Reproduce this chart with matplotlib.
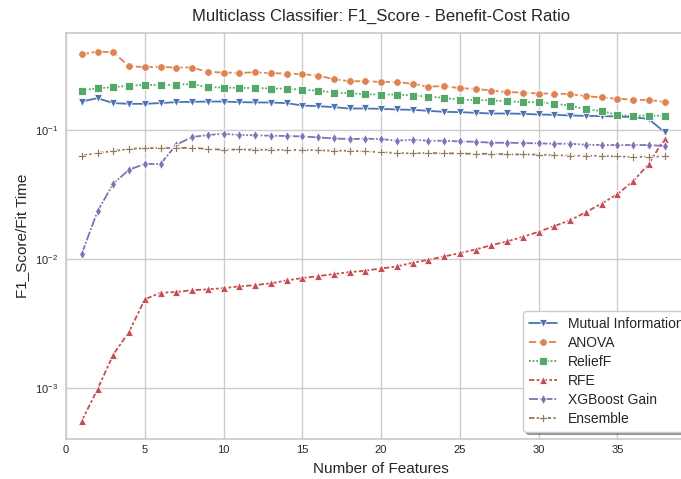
import matplotlib
matplotlib.use("Agg")
import matplotlib.pyplot as plt
import seaborn as sns
import numpy as np

sns.set_theme(style="whitegrid")
plt.rcParams['font.family'] = ['Liberation Sans', 'DejaVu Sans']

n_features = list(range(1, 39))

mutual_information = [0.1656, 0.1758, 0.161, 0.159, 0.159, 0.161, 0.1638, 0.1647, 0.1656, 0.1656,
                      0.1638, 0.163, 0.1627, 0.161, 0.1542, 0.1525, 0.1498, 0.1462, 0.1462, 0.1454,
                      0.1436, 0.1428, 0.1403, 0.1378, 0.137, 0.1354, 0.1337, 0.1337, 0.133, 0.1314,
                      0.1306, 0.129, 0.1283, 0.1276, 0.1268, 0.1254, 0.121, 0.096]
anova = [0.385, 0.404, 0.399, 0.311, 0.306, 0.307, 0.304, 0.304, 0.281, 0.278,
         0.276, 0.279, 0.275, 0.273, 0.270, 0.263, 0.247, 0.238, 0.238, 0.235,
         0.235, 0.227, 0.216, 0.218, 0.210, 0.2077, 0.2015, 0.1958, 0.1944, 0.191,
         0.191, 0.189, 0.1824, 0.178, 0.1738, 0.1716, 0.1698, 0.1647]
relieff = [0.2015, 0.210, 0.214, 0.220, 0.223, 0.222, 0.224, 0.226, 0.214, 0.2126,
           0.211, 0.211, 0.2088, 0.2088, 0.204, 0.2015, 0.1944, 0.1923, 0.189, 0.1876,
           0.1876, 0.1843, 0.181, 0.1769, 0.1706, 0.1706, 0.1686, 0.1668, 0.1638, 0.1638,
           0.159, 0.1542, 0.1436, 0.1403, 0.130, 0.1283, 0.129, 0.1283]
rfe = [0.000552, 0.000972, 0.001804, 0.0027, 0.00483, 0.00545, 0.00551, 0.0057, 0.00578, 0.00591,
       0.00609, 0.00624, 0.00643, 0.00678, 0.00707, 0.00732, 0.00759, 0.00787, 0.00806, 0.0084,
       0.0087, 0.00929, 0.0098, 0.0104, 0.01104, 0.01178, 0.01272, 0.0136, 0.01477, 0.01616,
       0.0179, 0.01986, 0.0229, 0.02674, 0.0316, 0.0398, 0.0543, 0.0852]
xgboost_gain = [0.01091, 0.02332, 0.0382, 0.049, 0.0543, 0.0543, 0.0765, 0.0878, 0.0910, 0.0931,
                0.0910, 0.0906, 0.0899, 0.0894, 0.0888, 0.0872, 0.0856, 0.0847, 0.0852, 0.0847,
                0.0822, 0.0837, 0.0822, 0.0822, 0.0812, 0.0807, 0.0793, 0.0793, 0.0789, 0.0784,
                0.0779, 0.0779, 0.0765, 0.0761, 0.0761, 0.0761, 0.0761, 0.0748]
ensemble = [0.0629, 0.066, 0.0684, 0.0709, 0.0719, 0.0722, 0.0722, 0.0724, 0.0710, 0.0700,
            0.0703, 0.0700, 0.0700, 0.0697, 0.0697, 0.0692, 0.0688, 0.0688, 0.0679, 0.0670,
            0.0660, 0.0656, 0.0660, 0.0656, 0.0656, 0.0649, 0.0652, 0.0644, 0.0644, 0.0641,
            0.0637, 0.0629, 0.0629, 0.0626, 0.0621, 0.0615, 0.0618, 0.0621]

series_names = ["Mutual Information", "ANOVA", "ReliefF", "RFE", "XGBoost Gain", "Ensemble"]
series_values = [mutual_information, anova, relieff, rfe, xgboost_gain, ensemble]

colors = sns.color_palette("deep", 6)
markers = ["v", "o", "s", "^", "d", "P"]
dashes = [(None, None), (4, 1.5), (1, 1), (3, 1.25, 1.5, 1.25), (5, 1, 1, 1),
          (3, 1.25, 1.25, 1.25, 1.25, 1.25)]

fig = plt.figure(figsize=(6.81, 4.79), dpi=100)
ax = fig.add_axes([66 / 681, (479 - 438.5) / 479, 630 / 681, (438.5 - 33.3) / 479])

for name, vals, c, m, d in zip(series_names, series_values, colors, markers, dashes):
    line, = ax.plot(n_features, vals, color=c, marker=m, markersize=5.5,
                    markeredgecolor="white", markeredgewidth=0.6, linewidth=1.3, label=name)
    if d[0] is not None:
        line.set_dashes(d)

ax.set_yscale("log")
ax.set_xlim(0, 40)
ax.set_ylim(4.03e-4, 0.56)
ax.set_xticks([0, 5, 10, 15, 20, 25, 30, 35, 40])
ax.tick_params(axis="both", labelsize=8, length=0)
ax.tick_params(axis="x", pad=5)
ax.tick_params(axis="y", pad=6)
ax.minorticks_off()
ax.set_xlabel("Number of Features", fontsize=11, labelpad=5)
ax.set_ylabel("F1_Score/Fit Time", fontsize=11)
ax.set_title("Multiclass Classifier: F1_Score - Benefit-Cost Ratio", fontsize=12, pad=9)

ax.legend(loc="lower right", fontsize=10, shadow=True, frameon=True, labelspacing=0.36)

fig.savefig("out.png", dpi=100)
